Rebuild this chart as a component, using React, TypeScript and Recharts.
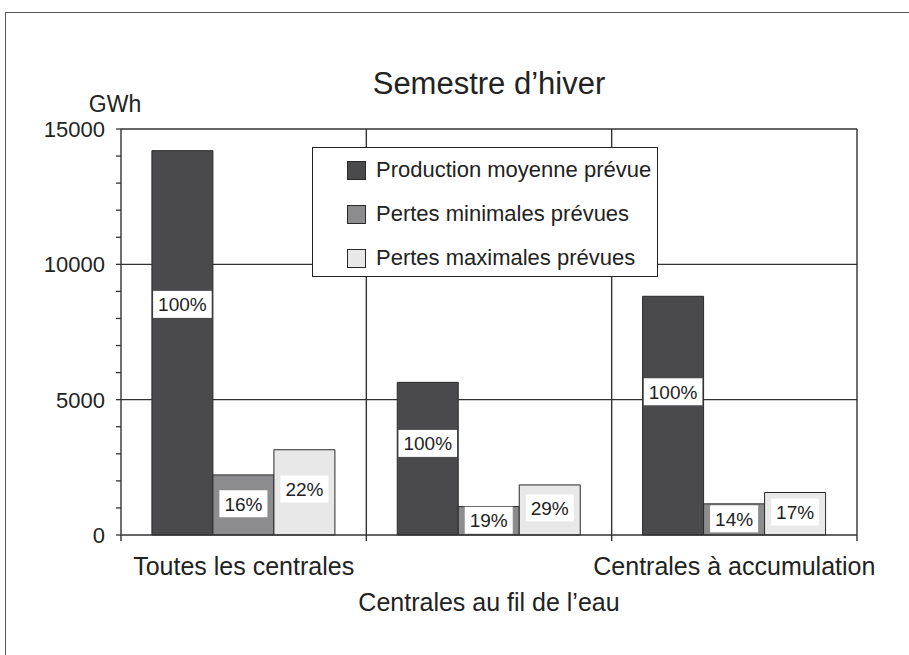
import React from "react";
import {
  BarChart,
  Bar,
  XAxis,
  YAxis,
  CartesianGrid,
  Legend,
  LabelList,
} from "recharts";

// ---- data ----
const categories = [
  "Toutes les centrales",
  "Centrales au fil de l’eau",
  "Centrales à accumulation",
];
const productionMoyenne = [14200, 5640, 8820];
const pertesMinimales = [2220, 1050, 1150];
const pertesMaximales = [3150, 1850, 1570];
const productionPct = ["100%", "100%", "100%"];
const minPct = ["16%", "19%", "14%"];
const maxPct = ["22%", "29%", "17%"];
const yTicks = [0, 1000, 2000, 3000, 4000, 5000, 6000, 7000, 8000, 9000, 10000, 11000, 12000, 13000, 14000, 15000];
const yMajor = [0, 5000, 10000, 15000];
const seriesNames = [
  "Production moyenne prévue",
  "Pertes minimales prévues",
  "Pertes maximales prévues",
];

const data = categories.map((c, i) => ({
  cat: c,
  prod: productionMoyenne[i],
  min: pertesMinimales[i],
  max: pertesMaximales[i],
  prodPct: productionPct[i],
  minPct: minPct[i],
  maxPct: maxPct[i],
}));

// ---- layout / style ----
const W = 909;
const H = 655;
const FONT = "'Liberation Sans', Arial, Helvetica, sans-serif";
const MARGIN = { top: 129, right: 52, bottom: 40, left: 61 };
const Y_W = 60;
const PLOT_W = W - MARGIN.left - Y_W - MARGIN.right;
const HALF_BAND = PLOT_W / categories.length / 2;
const YMAX = 15000;
const LINE = "#333";
const COLORS = ["#4a4a4c", "#8c8c8e", "#e8e8e8"];
const BAR_STROKE = "#2a2a2a";

const makeLabel = (frac: number) => (props: any) => {
  const { x, y, width, height, value } = props;
  const txt = String(value);
  const fs = 19;
  const digits = txt.replace("%", "").length;
  const tw = (digits * 0.556 + 0.889) * fs;
  const bw = tw + 10;
  const bh = 27;
  const cx = Number(x) + Number(width) / 2;
  const cy = Number(y) + Number(height) * (1 - frac);
  return (
    <g>
      <rect x={cx - bw / 2} y={cy - bh / 2} width={bw} height={bh} fill="#fff" />
      <text
        x={cx}
        y={cy}
        dy="0.36em"
        textAnchor="middle"
        fontFamily={FONT}
        fontSize={fs}
        fill="#222"
      >
        {txt}
      </text>
    </g>
  );
};

const XTick = (props: any) => {
  const { x, y, payload, index } = props;
  const half = payload && payload.offset ? payload.offset : HALF_BAND;
  const dy = index === 1 ? 76 : 40;
  return (
    <g>
      <line x1={x - half} y1={y} x2={x - half} y2={y + 6} stroke={LINE} strokeWidth={1.4} />
      {index === categories.length - 1 && (
        <line x1={x + half} y1={y} x2={x + half} y2={y + 6} stroke={LINE} strokeWidth={1.4} />
      )}
      <text
        x={x}
        y={y + dy}
        textAnchor="middle"
        fontFamily={FONT}
        fontSize={25}
        fill="#222"
      >
        {payload.value}
      </text>
    </g>
  );
};

const YTick = (props: any) => {
  const { x, y, payload } = props;
  if (payload.value % 5000 !== 0) return <g />;
  return (
    <text
      x={x}
      y={y}
      dy="0.36em"
      textAnchor="end"
      fontFamily={FONT}
      fontSize={22}
      fill="#222"
    >
      {payload.value}
    </text>
  );
};

const YLabel = (props: any) => {
  const vb = props.viewBox || {};
  const axisX = (vb.x || 0) + (vb.width || 0);
  return (
    <text
      x={axisX - 6}
      y={(vb.y || 0) - 17}
      textAnchor="middle"
      fontFamily={FONT}
      fontSize={23}
      fill="#222"
    >
      GWh
    </text>
  );
};

const LegendBox = () => (
  <div
    style={{
      position: "relative",
      width: 346,
      height: 130,
      boxSizing: "border-box",
      border: "1.5px solid #222",
      background: "#fff",
      fontFamily: FONT,
    }}
  >
    {seriesNames.map((name, i) => (
      <div
        key={name}
        style={{
          position: "absolute",
          left: 34,
          top: 22 + i * 44 - 11,
          height: 22,
          display: "flex",
          alignItems: "center",
          whiteSpace: "nowrap",
        }}
      >
        <div
          style={{
            width: 17,
            height: 17,
            background: COLORS[i],
            border: `1px solid ${BAR_STROKE}`,
          }}
        />
        <span style={{ marginLeft: 10, fontSize: 22, color: "#222" }}>{name}</span>
      </div>
    ))}
  </div>
);

export default function App() {
  return (
    <div
      style={{
        position: "absolute",
        left: 0,
        top: 0,
        width: W,
        height: H,
        background: "#fff",
        overflow: "hidden",
      }}
    >
      <div
        style={{
          position: "absolute",
          left: 5,
          top: 12,
          width: W,
          height: H,
          borderLeft: "1.5px solid #555",
          borderTop: "1.5px solid #555",
        }}
      />
      <div
        style={{
          position: "absolute",
          left: MARGIN.left + Y_W,
          width: PLOT_W,
          top: 66,
          textAlign: "center",
          fontFamily: FONT,
          fontSize: 31,
          color: "#222",
          lineHeight: "36px",
        }}
      >
        Semestre d’hiver
      </div>
      <div style={{ position: "absolute", left: 0, top: 0 }}>
        <BarChart
          width={W}
          height={H}
          data={data}
          margin={MARGIN}
          barCategoryGap="12.6%"
          barGap={0}
        >
          <CartesianGrid
            stroke={LINE}
            strokeWidth={1.4}
            horizontalCoordinatesGenerator={(p: any) => {
              const s = p && p.yAxis && p.yAxis.scale;
              return yMajor
                .filter((v) => v > 0)
                .map((v) =>
                  typeof s === "function"
                    ? s(v)
                    : p.offset.top + p.offset.height * (1 - v / YMAX)
                );
            }}
            verticalCoordinatesGenerator={(p: any) =>
              categories.map(
                (_, i) => p.offset.left + (p.offset.width * (i + 1)) / categories.length
              )
            }
          />
          <XAxis
            dataKey="cat"
            height={80}
            tickSize={0}
            tickMargin={0}
            tickLine={false}
            axisLine={{ stroke: LINE, strokeWidth: 1.4 }}
            tick={<XTick />}
            interval={0}
          />
          <YAxis
            width={Y_W}
            domain={[0, YMAX]}
            ticks={yTicks}
            interval={0}
            tickSize={5}
            tickMargin={11}
            tickLine={{ stroke: LINE, strokeWidth: 1.3 }}
            axisLine={{ stroke: LINE, strokeWidth: 1.4 }}
            tick={<YTick />}
            label={{ content: <YLabel /> }}
          />
          <Legend
            layout="horizontal"
            verticalAlign="middle"
            align="center"
            content={<LegendBox />}
            wrapperStyle={{ left: 312, top: 147, width: 346, height: 130 }}
          />
          <Bar dataKey="prod" name={seriesNames[0]} fill={COLORS[0]} stroke={BAR_STROKE} strokeWidth={1} isAnimationActive={false}>
            <LabelList dataKey="prodPct" content={makeLabel(0.6)} />
          </Bar>
          <Bar dataKey="min" name={seriesNames[1]} fill={COLORS[1]} stroke={BAR_STROKE} strokeWidth={1} isAnimationActive={false}>
            <LabelList dataKey="minPct" content={makeLabel(0.52)} />
          </Bar>
          <Bar dataKey="max" name={seriesNames[2]} fill={COLORS[2]} stroke={BAR_STROKE} strokeWidth={1} isAnimationActive={false}>
            <LabelList dataKey="maxPct" content={makeLabel(0.54)} />
          </Bar>
        </BarChart>
      </div>
    </div>
  );
}
